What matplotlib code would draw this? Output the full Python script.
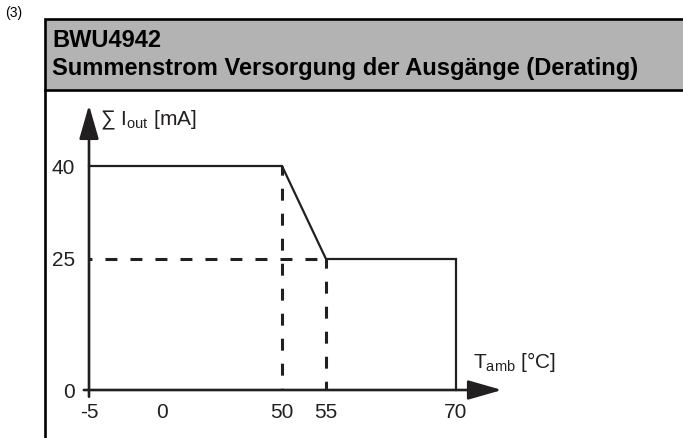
import numpy as np
import matplotlib
matplotlib.use('Agg')
import matplotlib.pyplot as plt

plt.rcParams['font.family'] = ['Liberation Sans', 'DejaVu Sans']
plt.rcParams['mathtext.fontset'] = 'custom'
plt.rcParams['mathtext.rm'] = 'Liberation Sans'
plt.rcParams['mathtext.it'] = 'Liberation Sans'
plt.rcParams['lines.scale_dashes'] = False

# derating curve
t_curve = [-5, 50, 55, 70, 70]
i_curve = [40, 40, 25, 25, 0]
x_ticks = [-5, 0, 50, 55, 70]
y_ticks = [0, 25, 40]
t_knee = [50, 55]
i_knee = [40, 25]

# schematic axes: where each tick sits (fraction of axis length)
x_slot = np.array([0, 73, 193, 237, 367]) / 367
y_slot = np.array([0, 131, 224]) / 224

ink = '#231f20'
W, H = 683, 438

def fx(px):
    return px / W

def fy(py):
    return 1 - py / H

fig = plt.figure(figsize=(6.83, 4.38), dpi=100)

# header box and frame
fig.patches.append(plt.Rectangle((fx(45), fy(90)), 1.0, fy(19) - fy(90),
                                 transform=fig.transFigure, facecolor='#b3b3b3',
                                 edgecolor='black', lw=1.9, clip_on=False))
fig.add_artist(plt.Line2D([fx(45), fx(45)], [fy(90), 0], color='black', lw=1.9,
                          transform=fig.transFigure))
fig.text(fx(5), fy(17), '(3)', fontsize=10, va='baseline')
fig.text(fx(52), fy(47), 'BWU4942', fontsize=17, fontweight='bold', va='baseline')
fig.text(fx(52), fy(75), 'Summenstrom Versorgung der Ausgänge (Derating)',
         fontsize=17, fontweight='bold', va='baseline')

ax = fig.add_axes([fx(89), fy(390), fx(456) - fx(89), fy(166) - fy(390)])
ax.set_xscale('function', functions=(lambda v: np.interp(v, x_ticks, x_slot),
                                     lambda p: np.interp(p, x_slot, x_ticks)))
ax.set_yscale('function', functions=(lambda v: np.interp(v, y_ticks, y_slot),
                                     lambda p: np.interp(p, y_slot, y_ticks)))
ax.set_xlim(x_ticks[0], x_ticks[-1])
ax.set_ylim(y_ticks[0], y_ticks[-1])
ax.patch.set_visible(False)
for s in ax.spines.values():
    s.set_visible(False)

ax.plot(t_curve, i_curve, color=ink, lw=1.6, clip_on=False, solid_joinstyle='miter')
ax.plot([x_ticks[0], t_knee[1]], [i_knee[1], i_knee[1]], color=ink, lw=2.2,
        linestyle=(6.5, (8.6, 9.4)), clip_on=False)
ax.plot([t_knee[0], t_knee[0]], [i_knee[0], 0], color=ink, lw=2.2,
        linestyle=(2, (8.6, 9.4)), clip_on=False)
ax.plot([t_knee[1], t_knee[1]], [i_knee[1], 0], color=ink, lw=2.2,
        linestyle=(2, (8.6, 9.4)), clip_on=False)

# axis arrows
head = dict(arrowstyle='-|>,head_length=0.8,head_width=0.23', mutation_scale=26,
            color=ink, lw=1.9, shrinkA=0, shrinkB=0)
ax.annotate('', xy=(1.125, 0), xytext=(-0.014, 0), xycoords='axes fraction',
            arrowprops=head)
ax.annotate('', xy=(0, 1.272), xytext=(0, -0.03), xycoords='axes fraction',
            arrowprops=head)

ax.set_xticks(x_ticks)
ax.set_xticklabels([str(v) for v in x_ticks])
ax.set_yticks(y_ticks)
ax.set_yticklabels([str(v) for v in y_ticks])
ax.tick_params(axis='both', length=0, labelsize=15, colors=ink)
ax.tick_params(axis='x', pad=9)
ax.tick_params(axis='y', pad=10)

fig.text(fx(100), fy(125), '∑ I$_{\\mathrm{out}}$ [mA]', fontsize=15, va='baseline',
         color=ink)
fig.text(fx(473), fy(368), 'T$_{\\mathrm{amb}}$ [°C]', fontsize=15, va='baseline',
         color=ink)

fig.savefig('out.png', dpi=100)
